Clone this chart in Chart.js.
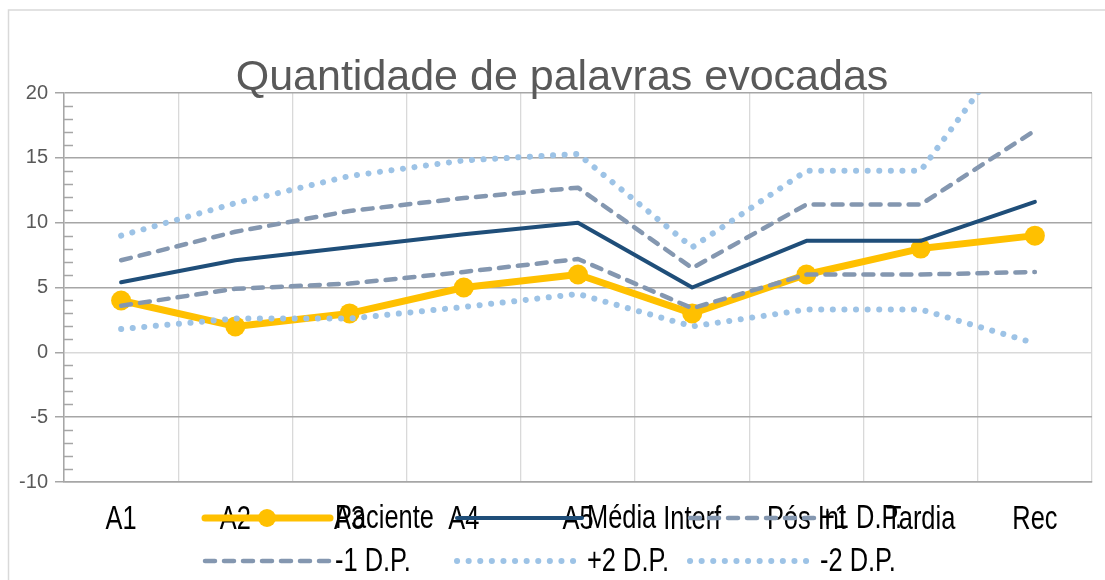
<!DOCTYPE html>
<html>
<head>
<meta charset="utf-8">
<script src="https://cdn.jsdelivr.net/npm/chart.js@4.4.1/dist/chart.umd.min.js"></script>
<style>
    html, body { margin: 0; padding: 0; background: #fff; }
</style>
</head>
<body>
<canvas id="chart" width="1105" height="580"></canvas>
<script>
// Chart data
const chartTitle = 'Quantidade de palavras evocadas';
const categories = ['A1', 'A2', 'A3', 'A4', 'A5', 'Interf', 'Pós Int', 'Tardia', 'Rec'];
const paciente = [4, 2, 3, 5, 6, 3, 6, 8, 9];
const media = [5.4, 7.1, 8.1, 9.1, 10, 5, 8.6, 8.6, 11.6];
const maisUmDP = [7.1, 9.3, 10.9, 11.9, 12.7, 6.5, 11.4, 11.4, 17.1];
const menosUmDP = [3.6, 4.9, 5.3, 6.2, 7.2, 3.4, 6.0, 6.0, 6.2];
const maisDoisDP = [9.0, 11.5, 13.6, 14.8, 15.3, 8.1, 14.0, 14.0, 26];
const menosDoisDP = [1.8, 2.6, 2.6, 3.5, 4.5, 2.0, 3.3, 3.3, 0.7];
const seriesNames = ['Paciente', 'Média', '+1 D.P.', '-1 D.P.', '+2 D.P.', '-2 D.P.'];
const yMin = -10;
const yMax = 20;
const yStep = 5;
const minorStep = 1;

const regularFont = '"Liberation Sans", Arial, sans-serif';
// no narrow font installed, so category and legend text is squeezed by hand
const narrowScale = 0.77;

// draw text squeezed horizontally
function narrowText(ctx, text, x, y, align) {
    ctx.save();
    ctx.translate(x, y);
    ctx.scale(narrowScale, 1);
    ctx.textAlign = align;
    ctx.fillText(text, 0, 0);
    ctx.restore();
}

// White background and outer chart border
const frame = {
    id: 'frame',
    beforeDraw(chart) {
        const ctx = chart.ctx;
        ctx.save();
        ctx.fillStyle = '#fff';
        ctx.fillRect(0, 0, chart.width, chart.height);
        ctx.strokeStyle = '#d9d9d9';
        ctx.lineWidth = 1.5;
        ctx.strokeRect(8.5, 10, chart.width + 50, chart.height + 50);
        ctx.restore();
    }
};

// Minor tick marks inside the plot, on the value axis
const minorTicks = {
    id: 'minorTicks',
    beforeDatasetsDraw(chart) {
        const y = chart.scales.y;
        const ctx = chart.ctx;
        ctx.save();
        ctx.strokeStyle = '#a6a6a6';
        ctx.lineWidth = 1.5;
        for (let v = y.min; v <= y.max; v += minorStep) {
            if (v % yStep === 0) continue;
            const py = Math.round(y.getPixelForValue(v)) + 0.5;
            ctx.beginPath();
            ctx.moveTo(y.right, py);
            ctx.lineTo(y.right + 9, py);
            ctx.stroke();
        }
        ctx.restore();
    }
};

// Category labels, title and legend drawn over the plot like the Excel original
const overlay = {
    id: 'overlay',
    afterDraw(chart) {
        const ctx = chart.ctx;
        const xScale = chart.scales.x;
        ctx.save();

        ctx.fillStyle = '#000';
        ctx.font = '33px ' + regularFont;
        ctx.textBaseline = 'middle';
        categories.forEach((label, i) => {
            narrowText(ctx, label, xScale.getPixelForValue(i), xScale.top + 38, 'center');
        });

        ctx.fillStyle = '#595959';
        ctx.font = '43px ' + regularFont;
        ctx.textAlign = 'center';
        ctx.textBaseline = 'alphabetic';
        ctx.fillText(chartTitle, 562, 90);

        const cols = [205, 457, 690];
        const rows = [518, 561];
        chart.data.datasets.forEach((ds, i) => {
            const x = cols[i % 3];
            const y = rows[Math.floor(i / 3)];
            ctx.strokeStyle = ds.borderColor;
            ctx.lineWidth = ds.borderWidth;
            ctx.lineCap = ds.borderCapStyle || 'butt';
            ctx.setLineDash(ds.borderDash || []);
            ctx.beginPath();
            ctx.moveTo(x, y);
            ctx.lineTo(x + 125, y);
            ctx.stroke();
            ctx.setLineDash([]);
            if (ds.pointRadius > 0) {
                ctx.fillStyle = ds.pointBackgroundColor;
                ctx.beginPath();
                ctx.arc(x + 62, y, 9, 0, Math.PI * 2);
                ctx.fill();
            }
            ctx.fillStyle = '#000';
            ctx.font = '33px ' + regularFont;
            ctx.textBaseline = 'middle';
            narrowText(ctx, ds.label, x + 130, y + 1, 'left');
        });
        ctx.restore();
    }
};

function lineSeries(label, data, color, width, dash, order) {
    return {
        label: label,
        data: data,
        borderColor: color,
        backgroundColor: color,
        borderWidth: width,
        borderDash: dash,
        borderCapStyle: 'round',
        borderJoinStyle: 'round',
        pointRadius: 0,
        pointHoverRadius: 0,
        tension: 0,
        fill: false,
        order: order
    };
}

const datasets = [
    {
        label: seriesNames[0],
        data: paciente,
        borderColor: '#FFC000',
        backgroundColor: '#FFC000',
        borderWidth: 7,
        borderCapStyle: 'round',
        borderJoinStyle: 'round',
        pointRadius: 10,
        pointHoverRadius: 10,
        pointBackgroundColor: '#FFC000',
        pointBorderWidth: 0,
        tension: 0,
        fill: false,
        order: 6
    },
    lineSeries(seriesNames[1], media, '#1F4E79', 4, [], 5),
    lineSeries(seriesNames[2], maisUmDP, '#8497B0', 4.5, [10, 9], 4),
    lineSeries(seriesNames[3], menosUmDP, '#8497B0', 4.5, [10, 9], 3),
    lineSeries(seriesNames[4], maisDoisDP, '#9DC3E6', 6, [0.1, 11.5], 2),
    lineSeries(seriesNames[5], menosDoisDP, '#9DC3E6', 6, [0.1, 11.5], 1)
];

const ctx = document.getElementById('chart');
new Chart(ctx, {
    type: 'line',
    data: {
        labels: categories,
        datasets: datasets
    },
    options: {
        responsive: false,
        animation: false,
        layout: {
            padding: { top: 93, right: 13, left: 0, bottom: 0 }
        },
        plugins: {
            legend: { display: false },
            title: { display: false },
            tooltip: { enabled: false }
        },
        scales: {
            x: {
                offset: true,
                grid: {
                    offset: true,
                    color: '#d9d9d9',
                    lineWidth: 1.3,
                    drawTicks: false
                },
                border: { display: true, color: '#a6a6a6', width: 1.5 },
                ticks: { display: false },
                afterFit: scale => { scale.height = 98; }
            },
            y: {
                min: yMin,
                max: yMax,
                grid: {
                    color: c => (c.tick && c.tick.value === 0 ? '#d9d9d9' : '#a6a6a6'),
                    lineWidth: 1.5,
                    tickLength: 9,
                    tickColor: '#a6a6a6'
                },
                border: { color: '#a6a6a6', width: 1.5 },
                ticks: {
                    stepSize: yStep,
                    color: '#595959',
                    font: { family: regularFont, size: 20 },
                    padding: 7
                },
                afterFit: scale => { scale.width = 64; }
            }
        }
    },
    plugins: [frame, minorTicks, overlay]
});
</script>
</body>
</html>
